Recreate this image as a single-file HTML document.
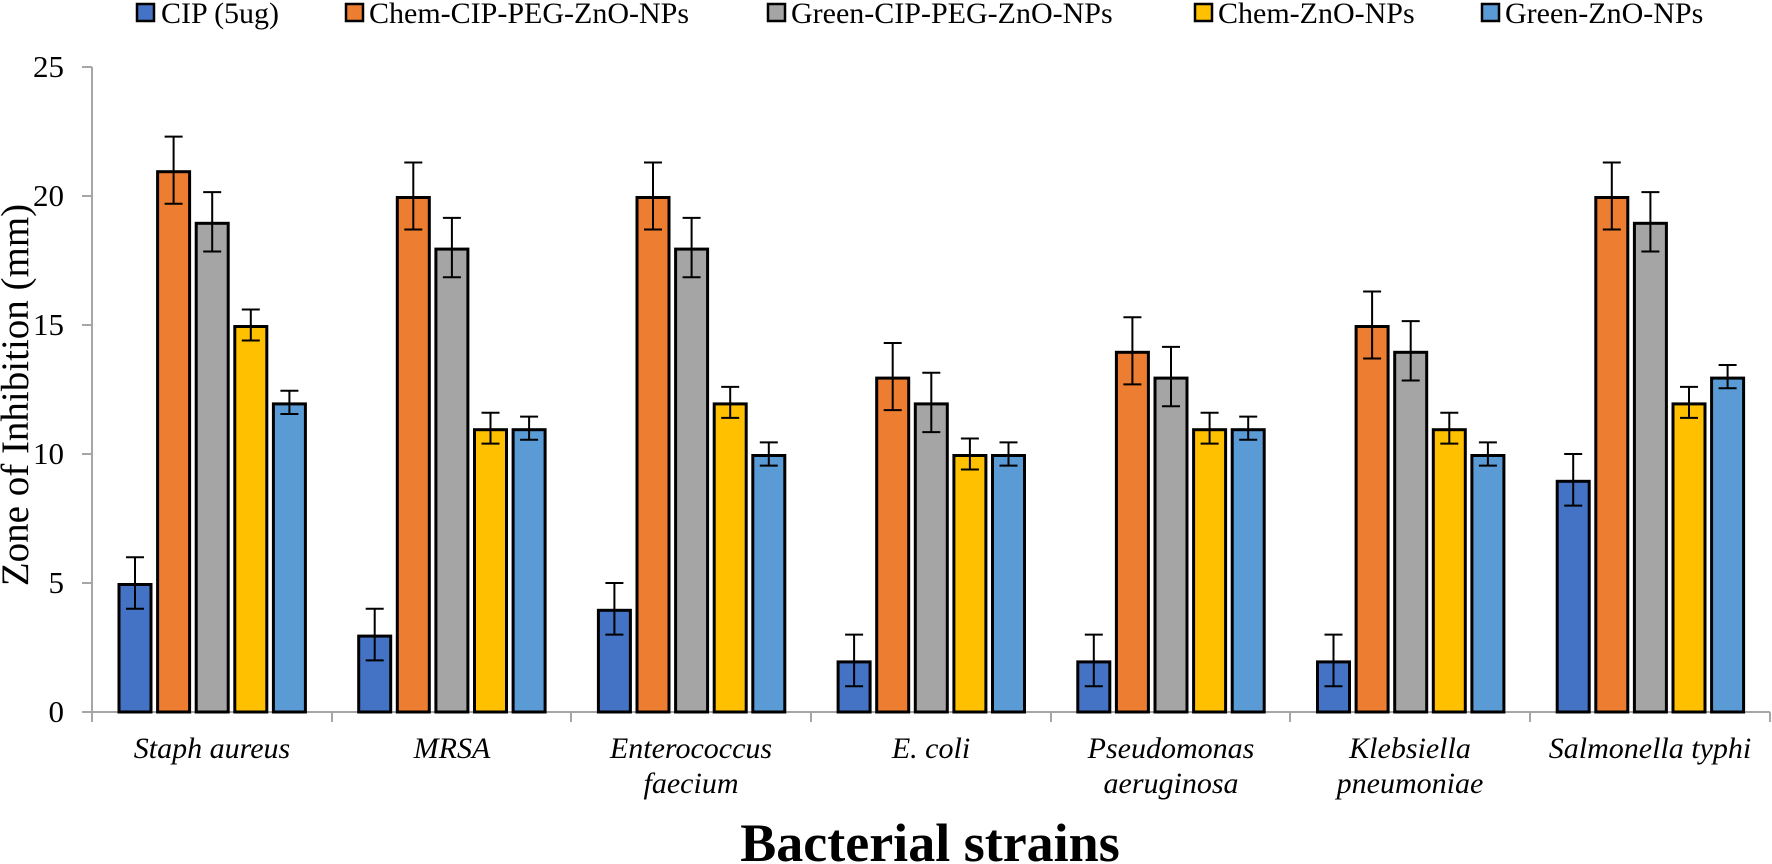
<!DOCTYPE html>
<html><head><meta charset="utf-8"><style>
html,body{margin:0;padding:0;background:#fff;}
svg{display:block;}
text{font-family:"Liberation Serif",serif;fill:#000;}
</style></head><body>
<svg width="1772" height="864" viewBox="0 0 1772 864" xmlns="http://www.w3.org/2000/svg">
<g font-size="30">
<rect x="137" y="4" width="17" height="17" fill="#4472C4" stroke="#000" stroke-width="2.5"/><text x="161" y="23">CIP (5ug)</text>
<rect x="346" y="4" width="17" height="17" fill="#ED7D31" stroke="#000" stroke-width="2.5"/><text x="369" y="23">Chem-CIP-PEG-ZnO-NPs</text>
<rect x="768" y="4" width="17" height="17" fill="#A5A5A5" stroke="#000" stroke-width="2.5"/><text x="791" y="23">Green-CIP-PEG-ZnO-NPs</text>
<rect x="1195" y="4" width="17" height="17" fill="#FFC000" stroke="#000" stroke-width="2.5"/><text x="1218" y="23">Chem-ZnO-NPs</text>
<rect x="1482" y="4" width="17" height="17" fill="#5B9BD5" stroke="#000" stroke-width="2.5"/><text x="1505" y="23">Green-ZnO-NPs</text>
</g>
<g stroke="#a6a6a6" stroke-width="2" fill="none">
<line x1="92" y1="67" x2="92" y2="713"/>
<line x1="82" y1="67" x2="92" y2="67"/>
<line x1="82" y1="196" x2="92" y2="196"/>
<line x1="82" y1="325" x2="92" y2="325"/>
<line x1="82" y1="454" x2="92" y2="454"/>
<line x1="82" y1="583" x2="92" y2="583"/>
<line x1="82" y1="712" x2="1770" y2="712"/>
<line x1="92" y1="712" x2="92" y2="722"/>
<line x1="332" y1="712" x2="332" y2="722"/>
<line x1="571" y1="712" x2="571" y2="722"/>
<line x1="811" y1="712" x2="811" y2="722"/>
<line x1="1051" y1="712" x2="1051" y2="722"/>
<line x1="1290" y1="712" x2="1290" y2="722"/>
<line x1="1530" y1="712" x2="1530" y2="722"/>
<line x1="1770" y1="712" x2="1770" y2="722"/>
</g>
<g font-size="31" text-anchor="end">
<text x="64" y="77">25</text><text x="64" y="206">20</text><text x="64" y="335">15</text><text x="64" y="464">10</text><text x="64" y="593">5</text><text x="64" y="722">0</text>
</g>
<text transform="translate(28,395) rotate(-90)" font-size="39" text-anchor="middle">Zone of Inhibition (mm)</text>
<g id="bars"></g>
<g font-size="30" font-style="italic" text-anchor="middle">
<text x="212" y="758">Staph aureus</text>
<text x="452" y="758">MRSA</text>
<text x="691" y="758">Enterococcus</text><text x="691" y="793">faecium</text>
<text x="931" y="758">E. coli</text>
<text x="1171" y="758">Pseudomonas</text><text x="1171" y="793">aeruginosa</text>
<text x="1410" y="758">Klebsiella</text><text x="1410" y="793">pneumoniae</text>
<text x="1650" y="758">Salmonella typhi</text>
</g>
<text x="930" y="861" font-size="54" font-weight="bold" text-anchor="middle">Bacterial strains</text>
</svg>
<script>
var data=[[5,21,19,15,12],[3,20,18,11,11],[4,20,18,12,10],[2,13,12,10,10],[2,14,13,11,11],[2,15,14,11,10],[9,20,19,12,13]];
var cols=["#4472C4","#ED7D31","#A5A5A5","#FFC000","#5B9BD5"];
var err=[1,1.3,1.15,0.6,0.45];
var u=25.8,y0=712,g=document.getElementById("bars"),s="";
for(var i=0;i<7;i++)for(var j=0;j<5;j++){
 var x=92+239.7*i+25.5+38.6*j,v=data[i][j],h=v*u;
 s+='<rect x="'+(x+1.5)+'" y="'+(y0-h+1.5)+'" width="32" height="'+(h-1.5)+'" fill="'+cols[j]+'" stroke="#000" stroke-width="3"/>';
 var cx=x+17.5,t=y0-(v+err[j])*u,b=y0-(v-err[j])*u;
 s+='<path d="M'+cx+' '+t+'V'+b+'M'+(cx-9)+' '+t+'H'+(cx+9)+'M'+(cx-9)+' '+b+'H'+(cx+9)+'" stroke="#000" stroke-width="2" fill="none"/>';
}
g.innerHTML=s;
</script>
</body></html>
